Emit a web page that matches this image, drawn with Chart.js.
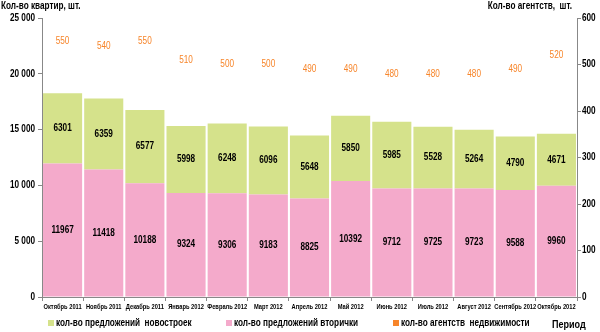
<!DOCTYPE html>
<html>
<meta charset="utf-8" />
<style>
	html, body {
		width: 100%;
		height: 100%;
		margin: 0;
		padding: 0;
		overflow: hidden;
		background: #fff;
	}
	#wrap {
		position: absolute;
		left: 0;
		top: 0;
		width: 600px;
		height: 332px;
	}
</style>
<script src="https://cdn.jsdelivr.net/npm/chart.js"></script>
<script>

	// Chart data
	var months = ["Октябрь 2011", "Ноябрь 2011", "Декабрь 2011", "Январь 2012", "Февраль 2012", "Март 2012",
		"Апрель 2012", "Май 2012", "Июнь 2012", "Июль 2012", "Август 2012", "Сентябрь 2012", "Октябрь 2012"];
	var newBuild = [6301, 6359, 6577, 5998, 6248, 6096, 5648, 5850, 5985, 5528, 5264, 4790, 4671];
	var resale = [11967, 11418, 10188, 9324, 9306, 9183, 8825, 10392, 9712, 9725, 9723, 9588, 9960];
	var agencies = [550, 540, 550, 510, 500, 500, 490, 490, 480, 480, 480, 490, 520];
	var leftTicks = [0, 5000, 10000, 15000, 20000, 25000];
	var rightTicks = [0, 100, 200, 300, 400, 500, 600];

	var FONT = "'Liberation Sans', Arial, sans-serif";
	var NARROW = 0.82; // squeeze to look like Arial Narrow
	var GREEN = '#d5e28b';
	var PINK = '#f4aacb';
	var ORANGE = '#f7852a';

	// draw narrow text at x,y
	function txt(ctx, s, x, y, font, align, color) {
		ctx.save();
		ctx.font = font;
		ctx.fillStyle = color || '#000';
		ctx.textAlign = align || 'center';
		ctx.textBaseline = 'middle';
		ctx.translate(x, y);
		ctx.scale(NARROW, 1);
		ctx.fillText(s, 0, 0);
		ctx.restore();
	}

	function fmt(v) {
		return v >= 1000 ? (v / 1000) + ' 000' : String(v);
	}

	var extras = {
		id: 'extras',
		afterDatasetsDraw: function (chart) {
			var ctx = chart.ctx;
			var bold = 'bold 10px ' + FONT;
			[0, 1].forEach(function (d) {
				chart.getDatasetMeta(d).data.forEach(function (bar, i) {
					var mid = (bar.y + bar.base) / 2;
					txt(ctx, String(chart.data.datasets[d].data[i]), bar.x, mid, bold);
				});
			});
			chart.getDatasetMeta(2).data.forEach(function (pt, i) {
				txt(ctx, String(agencies[i]), pt.x, pt.y, '10px ' + FONT, 'center', ORANGE);
			});
		},
		afterDraw: function (chart) {
			var ctx = chart.ctx;
			var bold = 'bold 10px ' + FONT;
			var y = chart.scales.y, y1 = chart.scales.y1, x = chart.scales.x;

			// axis tick labels
			leftTicks.forEach(function (v) {
				txt(ctx, fmt(v), y.right - 7, y.getPixelForValue(v), bold, 'right');
			});
			rightTicks.forEach(function (v) {
				txt(ctx, String(v), y1.left + 5, y1.getPixelForValue(v), bold, 'left');
			});
			months.forEach(function (m, i) {
				txt(ctx, m, x.getPixelForValue(i), 307, 'bold 7px ' + FONT);
			});

			// axis titles
			txt(ctx, 'Кол-во квартир, шт.', 1, 6, bold, 'left');
			txt(ctx, 'Кол-во агентств,  шт.', 572, 6, bold, 'right');

			// legend
			var items = [
				{ x: 48, c: GREEN, t: 'кол-во предложений  новостроек' },
				{ x: 226, c: PINK, t: 'кол-во предложений вторички' },
				{ x: 393, c: ORANGE, t: 'кол-во агентств  недвижимости' }
			];
			items.forEach(function (it) {
				ctx.fillStyle = it.c;
				ctx.fillRect(it.x, 320, 6, 6);
				txt(ctx, it.t, it.x + 8, 323.5, bold, 'left');
			});
			txt(ctx, 'Период', 552, 325, 'bold 11px ' + FONT, 'left');
		}
	};

	window.onload = function () {
		var data = {
			labels: months,
			datasets: [{
					label: 'кол-во предложений вторички',
					type: 'bar',
					backgroundColor: PINK,
					data: resale,
					stack: 's',
					yAxisID: 'y',
					order: 2
				}, {
					label: 'кол-во предложений новостроек',
					type: 'bar',
					backgroundColor: GREEN,
					data: newBuild,
					stack: 's',
					yAxisID: 'y',
					order: 2
				}, {
					label: 'кол-во агентств недвижимости',
					type: 'line',
					data: agencies,
					yAxisID: 'y1',
					showLine: false,
					pointRadius: 0,
					borderColor: ORANGE,
					backgroundColor: ORANGE,
					order: 1
				}]
		};

		var gridOpts = { display: true, drawOnChartArea: false, tickLength: 4, color: '#888' };

		var config = {
			type: 'bar',
			data: data,
			options: {
				responsive: true,
				maintainAspectRatio: false,
				animation: false,
				datasets: {
					bar: { barPercentage: 0.95, categoryPercentage: 1 }
				},
				plugins: {
					legend: { display: false },
					tooltip: { enabled: false }
				},
				layout: {
					padding: { left: 0, right: 0, top: 18, bottom: 0 }
				},
				scales: {
					x: {
						stacked: true,
						grid: Object.assign({ offset: true }, gridOpts),
						border: { color: '#888' },
						ticks: { display: false, autoSkip: false },
						afterFit: function (s) { s.height = 35; }
					},
					y: {
						stacked: true,
						position: 'left',
						min: 0,
						max: 25000,
						afterBuildTicks: function (s) { s.ticks = leftTicks.map(function (v) { return { value: v }; }); },
						grid: gridOpts,
						border: { color: '#888' },
						ticks: { display: false },
						afterFit: function (s) { s.width = 42; }
					},
					y1: {
						position: 'right',
						min: 0,
						max: 600,
						afterBuildTicks: function (s) { s.ticks = rightTicks.map(function (v) { return { value: v }; }); },
						grid: gridOpts,
						border: { color: '#888' },
						ticks: { display: false },
						afterFit: function (s) { s.width = 23; }
					}
				}
			},
			plugins: [extras]
		};

		new Chart(document.getElementById('myChart'), config);
	};

</script>
<body>
	<div id="wrap">
		<canvas id="myChart"></canvas>
	</div>
</body>
</html>
